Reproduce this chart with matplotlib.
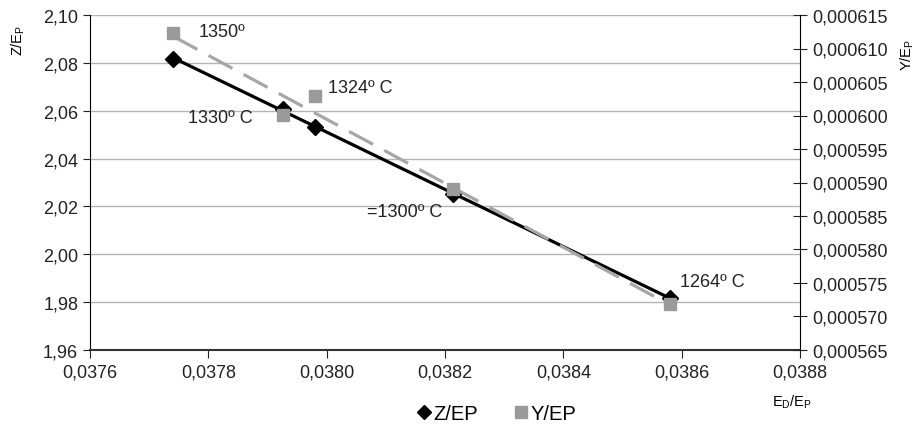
import numpy as np
import matplotlib
matplotlib.use('Agg')
import matplotlib.pyplot as plt
from matplotlib.ticker import FuncFormatter, MultipleLocator
from matplotlib.lines import Line2D

plt.rcParams['font.family'] = ['Liberation Sans', 'DejaVu Sans']
plt.rcParams['mathtext.fontset'] = 'custom'
plt.rcParams['mathtext.rm'] = 'Liberation Sans'
plt.rcParams['mathtext.it'] = 'Liberation Sans'

# E_D/E_P (x), Z/E_P (left axis), Y/E_P (right axis)
ed_ep = [0.037741, 0.037927, 0.03798, 0.038213, 0.03858]
z_ep = [2.0816, 2.0607, 2.0533, 2.0252, 1.9817]
y_ep = [0.0006123, 0.0006001, 0.0006029, 0.000589, 0.0005718]
temp_labels = ['1350º', '1330º C', '1324º C', '=1300º C', '1264º C']

fig = plt.figure(figsize=(9.2, 4.31), dpi=100)
ax = fig.add_axes([90/920, 1-351/431, 710/920, 335/431])
ax2 = ax.twinx()

x = np.array(ed_ep)
xx = np.array([x.min(), x.max()])

# linear trendlines like the spreadsheet
pz = np.polyfit(x, z_ep, 1)
py = np.polyfit(x, y_ep, 1)

ax.plot(xx, np.polyval(pz, xx), color='black', lw=2.3, zorder=3)
ax.plot(x, z_ep, 'D', color='black', ms=8.5, zorder=4)

ax2.plot(xx, np.polyval(py, xx), color='#a6a6a6', lw=2.3, dashes=(8.5, 4), zorder=3)
ax2.plot(x, y_ep, 's', color='#9a9a9a', ms=8, zorder=4)

ax.set_xlim(0.0376, 0.0388)
ax.set_ylim(1.96, 2.10)
ax2.set_ylim(0.000565, 0.000615)
ax.xaxis.set_major_locator(MultipleLocator(0.0002))
ax.yaxis.set_major_locator(MultipleLocator(0.02))
ax2.yaxis.set_major_locator(MultipleLocator(0.000005))

ax.xaxis.set_major_formatter(FuncFormatter(lambda v, p: f'{v:.4f}'.replace('.', ',')))
ax.yaxis.set_major_formatter(FuncFormatter(lambda v, p: f'{v:.2f}'.replace('.', ',')))
ax2.yaxis.set_major_formatter(FuncFormatter(lambda v, p: f'{v:.6f}'.replace('.', ',')))

ax.grid(axis='y', color='#b4b4b4', lw=1)
ax.set_axisbelow(True)

for s in ['top', 'right']:
    ax.spines[s].set_visible(False)
for s in ['top', 'left', 'bottom']:
    ax2.spines[s].set_visible(False)
ax.spines['left'].set_color('black')
ax.spines['bottom'].set_color('#333333')
ax.spines['bottom'].set_linewidth(1.5)
ax2.spines['right'].set_color('black')

ax.tick_params(axis='y', direction='out', length=5, labelsize=13, colors='#222222')
ax.tick_params(axis='x', direction='out', length=6, labelsize=13, colors='#222222', pad=4)
ax2.tick_params(axis='y', direction='inout', length=10, labelsize=13, colors='#222222')

# temperature labels
offs = {'1350º': (25, 2, 'left', 'y'),
        '1330º C': (-31, -8, 'right', 'z'),
        '1324º C': (13, 9, 'left', 'y'),
        '=1300º C': (-10, -18, 'right', 'z'),
        '1264º C': (10, 17, 'left', 'z')}
for i, t in enumerate(temp_labels):
    dx, dy, ha, which = offs[t]
    if which == 'y':
        ax2.annotate(t, (ed_ep[i], y_ep[i]), xytext=(dx, dy), textcoords='offset pixels',
                     ha=ha, va='center', fontsize=13, color='#222222')
    else:
        ax.annotate(t, (ed_ep[i], z_ep[i]), xytext=(dx, dy), textcoords='offset pixels',
                    ha=ha, va='center', fontsize=13, color='#222222')

fig.text(18/920, 1-40/431, 'Z/E$_\\mathrm{P}$', rotation=90, ha='center', va='center', fontsize=10.5)
fig.text(907/920, 1-55/431, 'Y/E$_\\mathrm{P}$', rotation=90, ha='center', va='center', fontsize=10.5)
fig.text(792/920, 1-402/431, 'E$_\\mathrm{D}$/E$_\\mathrm{P}$', ha='center', va='center', fontsize=10.5)

handles = [Line2D([], [], ls='none', marker='D', color='black', ms=7),
           Line2D([], [], ls='none', marker='s', color='#9a9a9a', ms=9)]
fig.legend(handles, ['Z/EP', 'Y/EP'], loc='center', bbox_to_anchor=(495/920, 1-415/431),
           ncol=2, frameon=False, fontsize=14.5, handletextpad=0.0, columnspacing=1.6,
           handlelength=1.0)

fig.savefig('out.png', dpi=100)
